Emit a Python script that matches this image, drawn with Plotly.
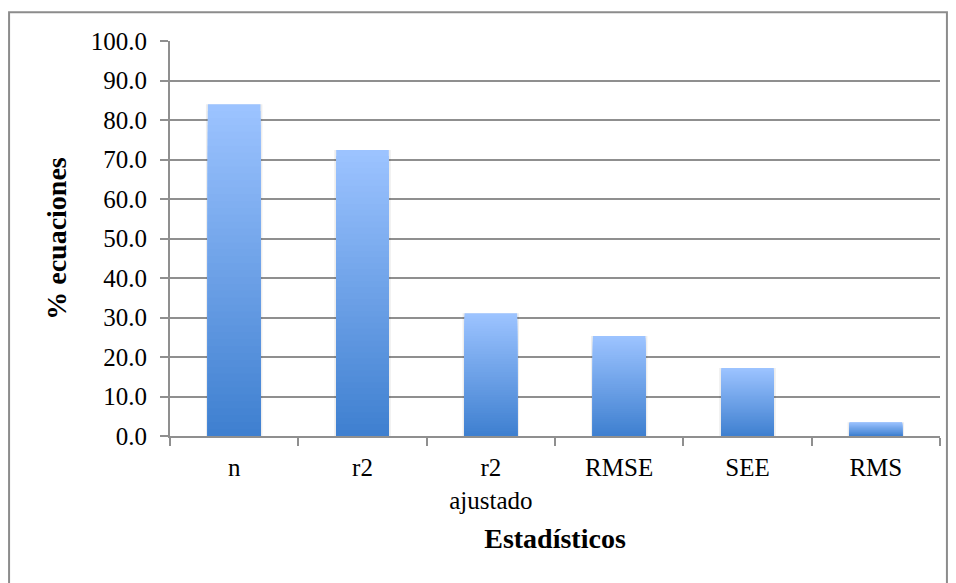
import plotly.graph_objects as go

# Share of equations reporting each statistic
categories = ["n", "r2", "r2<br>ajustado", "RMSE", "SEE", "RMS"]
values = [84.0, 72.4, 31.1, 25.3, 17.2, 3.5]
y_ticks = [0, 10, 20, 30, 40, 50, 60, 70, 80, 90, 100]

FONT = "Liberation Serif"
TOP_RGB = (156, 195, 255)
BOTTOM_RGB = (63, 128, 208)
STEPS = 48


def mix(t):
    r, g, b = (round(a + (c - a) * t) for a, c in zip(TOP_RGB, BOTTOM_RGB))
    return f"rgb({r},{g},{b})"


fig = go.Figure()

# faint drop shadow behind each bar
fig.add_trace(go.Bar(x=categories, y=values, width=0.44,
                     marker=dict(color="rgba(0,0,0,0.07)", line=dict(width=0)),
                     hoverinfo="skip", showlegend=False))

# vertical gradient: overlay progressively shorter, darker bars
for k in range(STEPS):
    frac = 1 - k / STEPS
    fig.add_trace(go.Bar(
        x=categories,
        y=[v * frac for v in values],
        width=0.41,
        marker=dict(color=mix(k / (STEPS - 1)), line=dict(width=0)),
        hoverinfo="skip" if k else None,
        showlegend=False,
    ))

fig.update_layout(
    width=956, height=583,
    margin=dict(l=170, r=16, t=41, b=147),
    barmode="overlay",
    plot_bgcolor="white",
    paper_bgcolor="white",
    font=dict(family=FONT, size=25, color="black"),
    shapes=[dict(type="rect", xref="paper", yref="paper",
                 x0=-0.209, x1=1.009, y0=-0.4, y1=1.073,
                 line=dict(color="#8c8c8c", width=2), fillcolor="rgba(0,0,0,0)",
                 layer="below")],
)

fig.update_yaxes(
    range=[0, 100], tickvals=y_ticks, tickformat=".1f",
    showgrid=True, gridcolor="#8f8f8f", gridwidth=2,
    showline=True, linecolor="#8f8f8f", linewidth=2,
    ticks="outside", ticklen=8, tickcolor="#8f8f8f", tickwidth=2,
    ticklabelstandoff=8,
    tickfont=dict(family=FONT, size=25),
    title=dict(text="<b>% ecuaciones</b>", font=dict(family=FONT, size=28), standoff=16),
    zeroline=False,
)
fig.update_xaxes(
    showline=True, linecolor="#8f8f8f", linewidth=2,
    ticks="outside", tickson="boundaries", ticklen=8, tickcolor="#8f8f8f", tickwidth=2,
    ticklabelstandoff=8,
    tickfont=dict(family=FONT, size=25),
    title=dict(text="<b>Estadísticos</b>", font=dict(family=FONT, size=28), standoff=16),
)

fig.write_html("out.html")
